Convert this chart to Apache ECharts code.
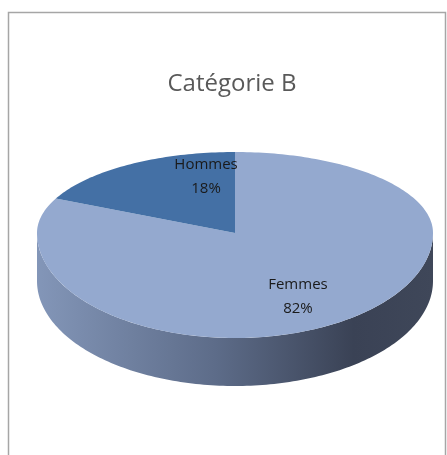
<!DOCTYPE html>
<html>
<head>
<meta charset="utf-8">
<script src="https://cdn.jsdelivr.net/npm/echarts@6/dist/echarts.min.js"></script>
<style>
	html, body { margin: 0; padding: 0; background: #fff; }
	#chart { width: 447px; height: 455px; }
</style>
</head>
<body>
<div id="chart"></div>
<script>
// données du graphique
var chartTitle = 'Catégorie B';
var categories = ['Femmes', 'Hommes'];
var values = [82, 18];

var topColors = { Femmes: '#94a9cf', Hommes: '#4470a5' };
var labelShift = { Femmes: [-6, 6], Hommes: [40, -12] };

var myChart = echarts.init(document.getElementById('chart'));

var total = values.reduce(function(a, b) { return a + b; }, 0);

// géométrie de l'ellipse (pseudo 3D)
var cx = 235, cy = 233, rx = 198, ryBack = 81, ryFront = 105, depth = 48;

function pt(phi, dz) {
	var s = Math.sin(phi), c = -Math.cos(phi);
	return [cx + rx * s, cy + (c < 0 ? ryBack : ryFront) * c + (dz || 0)];
}

function arc(a, b, dz) {
	var pts = [];
	var n = Math.max(2, Math.ceil(Math.abs(b - a) / 0.02));
	for (var i = 0; i <= n; i++) {
		pts.push(pt(a + (b - a) * i / n, dz));
	}
	return pts;
}

function renderItem(params, api) {
	var idx = params.dataIndex;
	var before = 0;
	for (var i = 0; i < idx; i++) before += values[i];
	var a = before / total * Math.PI * 2;
	var b = (before + api.value(0)) / total * Math.PI * 2;
	var name = categories[idx];
	var children = [];

	// face latérale visible (moitié avant)
	var sa = Math.max(a, Math.PI / 2), sb = Math.min(b, Math.PI * 1.5);
	if (sb > sa) {
		var upper = arc(sa, sb, 0);
		var lower = arc(sb, sa, depth);
		children.push({
			type: 'polygon',
			z2: 1,
			shape: { points: upper.concat(lower) },
			style: {
				fill: new echarts.graphic.LinearGradient(0, 0, 1, 0, [
					{ offset: 0, color: '#8396b8' },
					{ offset: 0.45, color: '#5d6c89' },
					{ offset: 0.8, color: '#3a4255' },
					{ offset: 1, color: '#3f4759' }
				])
			}
		});
	}

	// face supérieure
	var top = [[cx, cy]].concat(arc(a, b, 0));
	children.push({
		type: 'polygon',
		z2: 2,
		shape: { points: top },
		style: { fill: topColors[name] }
	});

	// étiquette
	var mid = (a + b) / 2;
	var lp = pt(mid, 0);
	var f = 0.65;
	var lx = cx + (lp[0] - cx) * f + labelShift[name][0];
	var ly = cy + (lp[1] - cy) * f + labelShift[name][1];
	children.push({
		type: 'text',
		z2: 3,
		x: lx,
		y: ly,
		style: {
			text: name + '\n' + Math.round(api.value(0) / total * 100) + '%',
			fill: '#1a1a1a',
			font: '15px "Open Sans", sans-serif',
			align: 'center',
			verticalAlign: 'middle',
			lineHeight: 24
		}
	});

	return { type: 'group', children: children };
}

var option = {
	backgroundColor: '#fff',
	animation: false,
	title: {
		text: chartTitle,
		left: 227,
		top: 67,
		textAlign: 'center',
		textStyle: {
			color: '#595959',
			fontSize: 24,
			fontWeight: 'normal',
			fontFamily: '"Open Sans", sans-serif'
		}
	},
	graphic: [{
		type: 'rect',
		shape: { x: 8.5, y: 12.5, width: 437, height: 460 },
		style: { fill: 'none', stroke: '#a6a6a6', lineWidth: 1.5 },
		silent: true
	}],
	series: [{
		type: 'custom',
		coordinateSystem: 'none',
		renderItem: renderItem,
		data: values.map(function(v, i) { return { name: categories[i], value: [v] }; })
	}]
};

myChart.setOption(option);
window.addEventListener('resize', function() {
	myChart.resize();
});
</script>
</body>
</html>
